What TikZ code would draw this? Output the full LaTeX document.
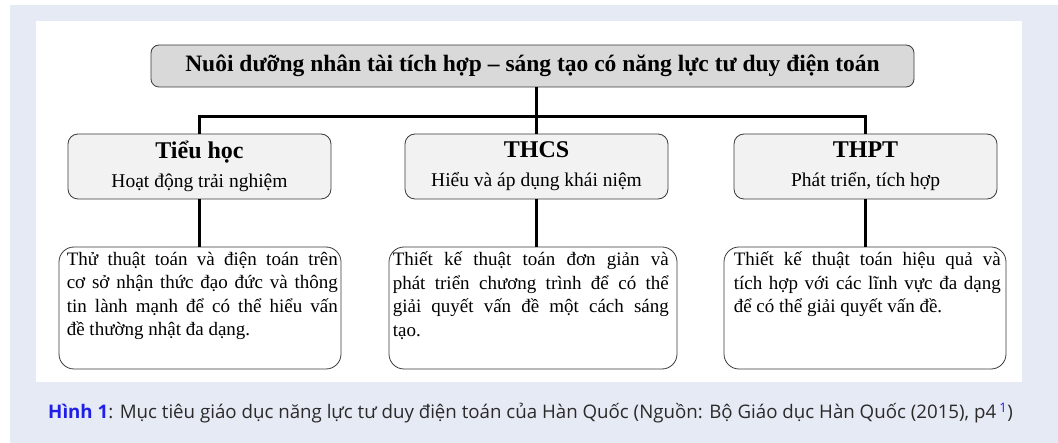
\documentclass[tikz,border=0pt]{standalone}
\usepackage{fontspec}
\setmainfont{Liberation Serif}
\newfontfamily\capfont{Open Sans}
\usetikzlibrary{calc}
\definecolor{panel}{HTML}{E6EAF4}
\definecolor{topfill}{HTML}{D9D9D9}
\definecolor{midfill}{HTML}{F2F2F2}
\definecolor{capblue}{HTML}{1F1FE6}
\definecolor{captext}{HTML}{2A2A2A}
\definecolor{edge}{HTML}{3A3A3A}
\tikzset{
  topbox/.style={draw=edge, line width=0.8pt, fill=topfill, rounded corners=8pt, inner sep=0pt,
     font=\bfseries\fontsize{23.5}{26}\selectfont},
  lvlbox/.style={draw=edge, line width=0.8pt, fill=midfill, rounded corners=10pt, inner sep=0pt,
     minimum width=263pt, minimum height=65pt, align=center, font=\fontsize{19.5}{29}\selectfont},
  descbox/.style={draw=edge, line width=0.8pt, fill=white, rounded corners=15pt, inner sep=0pt,
     minimum height=122pt},
  desctext/.style={anchor=north west, inner sep=0pt, align=justify,
     font=\fontsize{19}{23.5}\selectfont},
  conn/.style={line width=3pt, black},
}
\newcommand{\lvl}[2]{{\bfseries\fontsize{24}{29}\selectfont #1}\\#2}
\begin{document}
\begin{tikzpicture}[x=1pt,y=-1pt]
\useasboundingbox (0,0) rectangle (1058,443);
\fill[white] (0,0) rectangle (1058,443);
\fill[panel] (10,5) rectangle (1058,443);
\fill[white] (36,21) rectangle (1022,382);

\node[topbox, minimum width=763pt, minimum height=42pt] (top) at (532.5,66)
  {Nuôi dưỡng nhân tài tích hợp – sáng tạo có năng lực tư duy điện toán};

\node[lvlbox] (l2a) at (199.5,166.5) {\lvl{Tiểu học}{Hoạt động trải nghiệm}};
\node[lvlbox] (l2b) at (536.5,166.5) {\lvl{THCS}{Hiểu và áp dụng khái niệm}};
\node[lvlbox] (l2c) at (865.5,166.5) {\lvl{THPT}{Phát triển, tích hợp}};

\node[descbox, minimum width=282pt] (l3a) at (200,308) {};
\node[descbox, minimum width=288pt] (l3b) at (533,308) {};
\node[descbox, minimum width=282pt] (l3c) at (865,308) {};

\node[desctext, text width=271pt] (t3a) at ($(l3a.north west)+(8,5)$)
  {Thử thuật toán và điện toán trên\linebreak cơ sở nhận thức đạo đức và thông\linebreak tin lành mạnh để có thể hiểu vấn\linebreak đề thường nhật đa dạng.};
\node[desctext, text width=276pt] (t3b) at ($(l3b.north west)+(4,5)$)
  {Thiết kế thuật toán đơn giản và\linebreak phát triển chương trình để có thể\linebreak giải quyết vấn đề một cách sáng\linebreak tạo.};
\node[desctext, text width=267pt] (t3c) at ($(l3c.north west)+(10,5)$)
  {Thiết kế thuật toán hiệu quả và\linebreak tích hợp với các lĩnh vực đa dạng\linebreak để có thể giải quyết vấn đề.};

\coordinate (hy) at (0,117);
\draw[conn] (top.south -| l2b.north) -- (l2b.north);
\draw[conn] (l2a.north) -- (l2a.north |- hy) -- (l2c.north |- hy) -- (l2c.north);
\draw[conn] (l2a.south) -- (l2a.south |- l3a.north);
\draw[conn] (l2b.south) -- (l2b.south |- l3b.north);
\draw[conn] (l2c.south) -- (l2c.south |- l3c.north);

\node[anchor=west, inner sep=0pt, text=captext, font=\capfont\fontsize{18.7}{22}\selectfont] (cap) at (48,413)
  {\textcolor{capblue}{\bfseries Hình 1}: Mục tiêu giáo dục năng lực tư duy điện toán của Hàn Quốc (Nguồn: Bộ Giáo dục Hàn Quốc (2015), p4\,\textsuperscript{\textcolor{capblue}{1}})};
\end{tikzpicture}
\end{document}
